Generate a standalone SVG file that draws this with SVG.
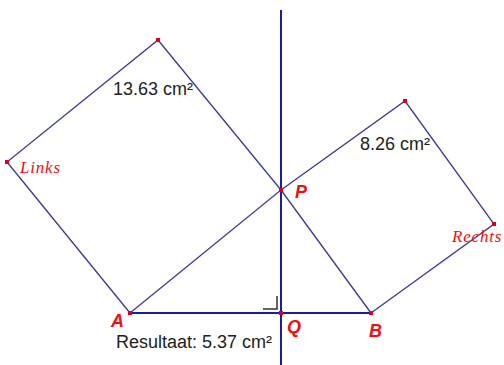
<svg xmlns="http://www.w3.org/2000/svg" width="504" height="365" viewBox="0 0 504 365">
<style>
.side{stroke:#3a3a98;stroke-width:1.3;fill:none;stroke-linecap:round}
.main{stroke:#1c1ca0;stroke-width:2;fill:none}
.pt{fill:#d8001c}
.area{font-family:"Liberation Sans",Arial,sans-serif;font-size:18px;fill:#222}
.lbl{font-family:"Liberation Sans",Arial,sans-serif;font-size:18px;font-weight:bold;font-style:italic;fill:#f01010}
.nm{font-family:"Liberation Serif","Times New Roman",serif;font-size:17px;font-style:italic;fill:#f01010;letter-spacing:0.8px}
</style>
<rect width="504" height="365" fill="#fff"/>
<g id="connectors">
<line class="main" x1="281" y1="10" x2="281" y2="365"/>
<line class="main" x1="130" y1="313" x2="371" y2="313"/>
<polyline class="side" points="130,313 7,162 158,40 281,190 130,313"/>
<line class="side" x1="281" y1="190" x2="371" y2="313"/>
<polyline class="side" points="281,190 405,101 494,224 371,313"/>
<polyline points="263,309 277,309 277,296" fill="none" stroke="#333" stroke-width="1.5"/>
</g>
<g id="A"><rect class="pt" x="128" y="311" width="4" height="4"/><text class="lbl" x="111" y="327">A</text></g>
<g id="Q"><rect class="pt" x="279" y="311" width="4" height="4"/><text class="lbl" x="287" y="333">Q</text></g>
<g id="B"><rect class="pt" x="369" y="311" width="4" height="4"/><text class="lbl" x="369" y="337">B</text></g>
<g id="P"><rect class="pt" x="279" y="188" width="4" height="4"/><text class="lbl" x="295" y="198">P</text></g>
<g id="Links"><rect class="pt" x="5" y="160" width="4" height="4"/><text class="nm" x="20" y="173">Links</text></g>
<g id="TopLeft"><rect class="pt" x="156" y="38" width="4" height="4"/></g>
<g id="TopRight"><rect class="pt" x="403" y="99" width="4" height="4"/></g>
<g id="Rechts"><rect class="pt" x="492" y="222" width="4" height="4"/><text class="nm" x="452" y="242">Rechts</text></g>
<g id="area-left"><text class="area" x="113" y="95">13.63 cm²</text></g>
<g id="area-right"><text class="area" x="360" y="150">8.26 cm²</text></g>
<g id="result"><text class="area" x="116" y="348">Resultaat: 5.37 cm²</text></g>
</svg>
